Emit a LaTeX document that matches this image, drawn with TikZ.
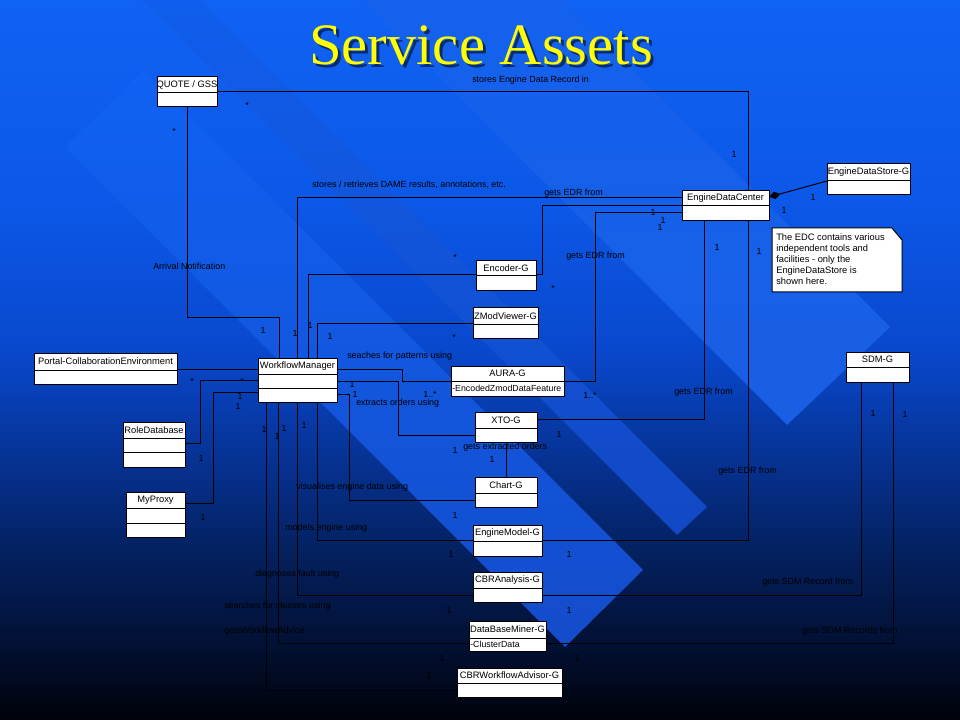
\documentclass[tikz,border=0pt]{standalone}
\usepackage{fontspec}
\setmainfont{Liberation Sans}
\newfontfamily\titlefont{Liberation Serif}
\usetikzlibrary{arrows.meta}
\definecolor{bgA}{RGB}{16,98,244}
\definecolor{bgB}{RGB}{12,88,232}
\definecolor{bgC}{RGB}{9,72,205}
\definecolor{bgD}{RGB}{6,52,152}
\definecolor{bgE}{RGB}{4,33,96}
\definecolor{bgF}{RGB}{2,15,48}
\definecolor{bgG}{RGB}{0,2,10}
\definecolor{bandA}{RGB}{20,76,202}
\definecolor{bandB}{RGB}{18,72,196}
\definecolor{bandC}{RGB}{25,95,228}
\definecolor{titleyellow}{RGB}{255,255,0}
\tikzset{
  umlbox/.style={draw=black, fill=white, line width=0.75pt, inner sep=0pt, outer sep=0pt, anchor=north west},
  umlname/.style={inner sep=0pt, text=black, font=\fontsize{7}{8}\selectfont},
  umlattr/.style={inner sep=0pt, anchor=west, text=black, font=\fontsize{6.6}{8}\selectfont},
  lbl/.style={inner sep=0pt, anchor=west, text=black, font=\fontsize{6.7}{8}\selectfont},
  mult/.style={inner sep=0pt, text=black, font=\fontsize{6.7}{8}\selectfont},
  conn/.style={draw=black, line width=0.75pt},
  notetext/.style={inner sep=0pt, anchor=north west, align=left, text=black, font=\fontsize{7}{8.25}\selectfont},
  titletext/.style={inner sep=0pt, anchor=base, font=\titlefont\fontsize{44}{50}\selectfont},
}
\newcommand\classbox[7]{%
  \node[umlbox, minimum width={(#4-#2)*0.75pt}, minimum height={(#5-#3)*0.75pt}] (#1) at (#2,#3) {};
  \draw[conn] (#2,#6) -- (#4,#6);
  \node[umlname] (#1-name) at ({(#2+#4)/2},{(#3+#6)/2}) {#7};
}
\begin{document}
\begin{tikzpicture}[x=0.75pt,y=-0.75pt]
\useasboundingbox (0,0) rectangle (960,720);
% background
\begin{scope}
\clip (0,0) rectangle (960,720);
\shade[top color=bgA, bottom color=bgB] (0,-1) rectangle (960,201);
\shade[top color=bgB, bottom color=bgC] (0,200) rectangle (960,351);
\shade[top color=bgC, bottom color=bgD] (0,350) rectangle (960,451);
\shade[top color=bgD, bottom color=bgE] (0,450) rectangle (960,551);
\shade[top color=bgE, bottom color=bgF] (0,550) rectangle (960,651);
\shade[top color=bgF, bottom color=bgG] (0,650) rectangle (960,721);
\shade[top color=bgA, bottom color=bandA] (643,570) -- (565,647) -- (65,147) -- (143,70) -- cycle;
\shade[top color=bgA, bottom color=bandB] (707,507) -- (677,535) -- (77,-65) -- (107,-93) -- cycle;
\shade[top color=bgA, bottom color=bandC] (890,327) -- (787,425) -- (187,-175) -- (290,-273) -- cycle;
\end{scope}
% title
\node[titletext, text=black, opacity=0.55] (title-shadow) at (484,68) {Service Assets};
\node[titletext, text=titleyellow] (title) at (481,65) {Service Assets};
% classes
\classbox{quote}{157}{77}{217}{107}{93}{QUOTE / GSS}
\classbox{edc}{682}{191}{769}{221}{206}{EngineDataCenter}
\classbox{eds}{827}{164}{910}{195}{181}{EngineDataStore-G}
\classbox{enc}{476}{261}{536}{291}{276}{Encoder-G}
\classbox{zmv}{473}{308}{538}{338}{324}{ZModViewer-G}
\classbox{aura}{451}{366}{564}{396}{381}{AURA-G}
\node[umlattr] (aura-attr) at (452,388.5) {-EncodedZmodDataFeature};
\classbox{xto}{475}{412}{537}{442}{428}{XTO-G}
\classbox{chart}{475}{477}{537}{507}{493}{Chart-G}
\classbox{emod}{473}{525}{542}{556}{541}{EngineModel-G}
\classbox{cbra}{473}{572}{542}{602}{588}{CBRAnalysis-G}
\classbox{dbm}{469}{621}{546}{651}{638}{DataBaseMiner-G}
\node[umlattr] (dbm-attr) at (470,644.5) {-ClusterData};
\classbox{cbrw}{457}{668}{562}{697}{683}{CBRWorkflowAdvisor-G}
\classbox{wm}{258}{358}{337}{402}{374}{WorkflowManager}
\draw[conn] (258,388) -- (337,388);
\classbox{portal}{34}{353}{177}{384}{370}{Portal-CollaborationEnvironment}
\classbox{role}{123}{422}{185}{467}{438}{RoleDatabase}
\draw[conn] (123,452) -- (185,452);
\classbox{proxy}{126}{492}{185}{537}{508}{MyProxy}
\draw[conn] (126,523) -- (185,523);
\classbox{sdm}{846}{352}{909}{382}{367}{SDM-G}
% note
\draw[conn, fill=white] (772,228) -- (892,228) -- (902,240) -- (902,292) -- (772,292) -- cycle;
\node[notetext] (note) at (776,233) {The  EDC contains various\\independent tools and\\facilities - only the\\EngineDataStore is\\shown here.};
% connectors
\draw[conn] (quote.east |- 0,92) -- (748,92) -- (edc.north -| 748,0);
\draw[conn] (quote.south -| 187,0) -- (187,317) -- (279,317) -- (wm.north -| 279,0);
\draw[conn] (wm.north -| 297,0) -- (297,198) -- (edc.west |- 0,198);
\draw[conn] (wm.north -| 308,0) -- (308,275) -- (enc.west |- 0,275);
\draw[conn] (wm.north -| 317,0) -- (317,323) -- (zmv.west |- 0,323);
\draw[conn] (enc.east |- 0,275) -- (542,275) -- (542,206) -- (edc.west |- 0,206);
\draw[conn] (aura.east |- 0,381) -- (595,381) -- (595,213) -- (edc.west |- 0,213);
\draw[conn] (wm.east |- 0,369) -- (402,369) -- (402,381) -- (aura.west |- 0,381);
\draw[conn] (wm.east |- 0,381) -- (398,381) -- (398,435) -- (xto.west |- 0,435);
\draw[conn] (wm.east |- 0,394) -- (349,394) -- (349,500) -- (chart.west |- 0,500);
\draw[conn] (xto.south -| 506,0) -- (chart.north -| 506,0);
\draw[conn] (xto.east |- 0,419) -- (704,419) -- (edc.south -| 704,0);
\draw[conn] (emod.east |- 0,540) -- (748,540) -- (edc.south -| 748,0);
\draw[conn] (wm.south -| 317,0) -- (317,540) -- (emod.west |- 0,540);
\draw[conn] (wm.south -| 297,0) -- (297,595) -- (cbra.west |- 0,595);
\draw[conn] (cbra.east |- 0,595) -- (861,595) -- (sdm.south -| 861,0);
\draw[conn] (wm.south -| 278,0) -- (278,643) -- (dbm.west |- 0,643);
\draw[conn] (dbm.east |- 0,643) -- (893,643) -- (sdm.south -| 893,0);
\draw[conn] (wm.south -| 266,0) -- (266,690) -- (cbrw.west |- 0,690);
\draw[conn] (wm.west |- 0,369) -- (portal.east |- 0,369);
\draw[conn] (wm.west |- 0,380) -- (200,380) -- (200,443) -- (role.east |- 0,443);
\draw[conn] (wm.west |- 0,392) -- (213,392) -- (213,503) -- (proxy.east |- 0,503);
\draw[conn, {Diamond[length=9pt,width=5.5pt]}-] (edc.east |- 0,197) -- (eds.west |- 0,181);
% connector labels
\node[lbl] (l-edr) at (472,80) {stores  Engine  Data  Record in};
\node[lbl] (l-dame) at (312,185) {stores / retrieves  DAME results, annotations, etc.};
\node[lbl] (l-enc) at (544,193) {gets  EDR  from};
\node[lbl] (l-aura) at (566,256) {gets  EDR  from};
\node[lbl] (l-arr) at (153,266) {Arrival Notification};
\node[lbl] (l-pat) at (347,356) {seaches for patterns using};
\node[lbl] (l-ord) at (356,403) {extracts orders using};
\node[lbl] (l-xo) at (463,447) {gets extracted orders};
\node[lbl] (l-xto) at (674,392) {gets  EDR  from};
\node[lbl] (l-emod) at (718,471) {gets  EDR  from};
\node[lbl] (l-vis) at (296,487) {visualises engine data using};
\node[lbl] (l-mod) at (285,528) {models engine using};
\node[lbl] (l-diag) at (255,574) {diagnoses fault using};
\node[lbl] (l-clu) at (224,606) {searches  for  clusters  using};
\node[lbl] (l-adv) at (224,631) {getsWorkflowAdvice};
\node[lbl] (l-sdm1) at (762,582) {gets  SDM  Record  from};
\node[lbl] (l-sdm2) at (802,631) {gets  SDM  Records  from};
% multiplicities
\node[mult] (m1) at (247,105) {*};
\node[mult] (m2) at (174,131) {*};
\node[mult] (m3) at (734,154) {1};
\node[mult] (m4) at (455,257) {*};
\node[mult] (m5) at (653,212) {1};
\node[mult] (m6) at (663,220) {1};
\node[mult] (m7) at (660,227) {1};
\node[mult] (m8) at (553,288) {*};
\node[mult] (m9) at (454,337) {*};
\node[mult] (m10) at (717,247) {1};
\node[mult] (m11) at (759,251) {1};
\node[mult] (m12) at (813,197) {1};
\node[mult] (m13) at (784,210) {1};
\node[mult] (m14) at (263,330) {1};
\node[mult] (m15) at (295,333) {1};
\node[mult] (m16) at (310,325) {1};
\node[mult] (m17) at (330,336) {1};
\node[mult] (m18) at (430,394) {1..*};
\node[mult] (m19) at (590,395) {1..*};
\node[mult] (m20) at (352,384) {1};
\node[mult] (m21) at (355,394) {1};
\node[mult] (m22) at (192,381) {*};
\node[mult] (m23) at (242,381) {*};
\node[mult] (m24) at (240,396) {1};
\node[mult] (m25) at (238,406) {1};
\node[mult] (m26) at (201,458) {1};
\node[mult] (m27) at (203,517) {1};
\node[mult] (m28) at (264,429) {1};
\node[mult] (m29) at (277,436) {1};
\node[mult] (m30) at (284,428) {1};
\node[mult] (m31) at (304,425) {1};
\node[mult] (m32) at (455,450) {1};
\node[mult] (m33) at (492,459) {1};
\node[mult] (m34) at (559,434) {1};
\node[mult] (m35) at (455,515) {1};
\node[mult] (m36) at (451,554) {1};
\node[mult] (m37) at (569,554) {1};
\node[mult] (m38) at (449,610) {1};
\node[mult] (m39) at (569,610) {1};
\node[mult] (m40) at (442,658) {1};
\node[mult] (m41) at (577,658) {1};
\node[mult] (m42) at (429,675) {1};
\node[mult] (m43) at (873,413) {1};
\node[mult] (m44) at (905,414) {1};
\end{tikzpicture}
\end{document}
